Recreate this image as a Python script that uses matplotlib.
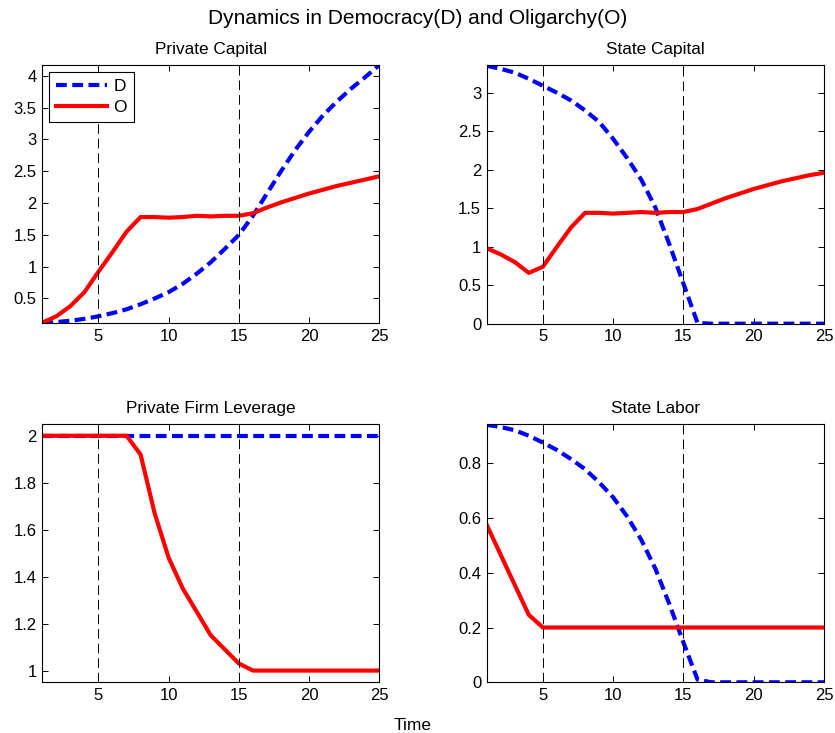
import matplotlib
matplotlib.use("Agg")
import matplotlib.pyplot as plt
import numpy as np

plt.rcParams['font.family'] = ['Liberation Sans', 'DejaVu Sans']

# time periods
t = np.arange(1, 26)

# Private Capital
pk_dem = [0.11, 0.13, 0.15, 0.18, 0.22, 0.27, 0.33, 0.41, 0.50, 0.60, 0.73, 0.89, 1.07,
          1.28, 1.50, 1.80, 2.15, 2.50, 2.83, 3.12, 3.38, 3.60, 3.80, 3.98, 4.17]
pk_oli = [0.12, 0.22, 0.38, 0.60, 0.92, 1.23, 1.55, 1.78, 1.78, 1.77, 1.78, 1.80, 1.79,
          1.80, 1.80, 1.84, 1.93, 2.01, 2.08, 2.15, 2.21, 2.27, 2.32, 2.37, 2.42]

# State Capital
sk_dem = [3.35, 3.31, 3.26, 3.18, 3.09, 3.00, 2.90, 2.77, 2.62, 2.40, 2.15, 1.87, 1.51,
          1.03, 0.52, 0.01, 0, 0, 0, 0, 0, 0, 0, 0, 0]
sk_oli = [0.98, 0.90, 0.80, 0.66, 0.74, 1.00, 1.25, 1.44, 1.44, 1.43, 1.44, 1.45, 1.44,
          1.45, 1.45, 1.49, 1.56, 1.63, 1.69, 1.75, 1.80, 1.85, 1.89, 1.93, 1.96]

# Private Firm Leverage
lev_dem = [2.0] * 25
lev_oli = [2.0, 2.0, 2.0, 2.0, 2.0, 2.0, 2.0, 1.92, 1.67, 1.48, 1.35, 1.25, 1.15,
           1.09, 1.03, 1.0, 1.0, 1.0, 1.0, 1.0, 1.0, 1.0, 1.0, 1.0, 1.0]

# State Labor
sl_dem = [0.94, 0.932, 0.92, 0.90, 0.875, 0.848, 0.815, 0.778, 0.73, 0.675, 0.605, 0.52,
          0.415, 0.285, 0.145, 0.01, 0, 0, 0, 0, 0, 0, 0, 0, 0]
sl_oli = [0.575, 0.465, 0.355, 0.246, 0.20, 0.20, 0.20, 0.20, 0.20, 0.20, 0.20, 0.20, 0.20,
          0.20, 0.20, 0.20, 0.20, 0.20, 0.20, 0.20, 0.20, 0.20, 0.20, 0.20, 0.20]

panels = [
    ("Private Capital", pk_dem, pk_oli, (0.11, 4.17), np.arange(0.5, 4.01, 0.5)),
    ("State Capital", sk_dem, sk_oli, (0, 3.36), np.arange(0, 3.01, 0.5)),
    ("Private Firm Leverage", lev_dem, lev_oli, (0.95, 2.05), np.arange(1, 2.01, 0.2)),
    ("State Labor", sl_dem, sl_oli, (0, 0.943), np.arange(0, 0.81, 0.2)),
]
breaks = [5, 15]

W, H = 835, 733
fig = plt.figure(figsize=(W / 100, H / 100), dpi=100)

# axes boxes in pixels: left, right, top, bottom
boxes = [(42.3, 379.3, 65, 323.3), (486.7, 824, 65, 323.7),
         (42.3, 379.3, 424, 682.3), (486.7, 824, 424, 682.3)]

lw = 3
for (title, dem, oli, ylim, yticks), (l, r, tp, b) in zip(panels, boxes):
    ax = fig.add_axes([l / W, 1 - b / H, (r - l) / W, (b - tp) / H])
    ax.plot(t, dem, color='blue', lw=lw, linestyle=(0, (2.6, 1.3)), label='D',
            dash_capstyle='butt')
    ax.plot(t, oli, color='red', lw=lw, label='O')
    for xb in breaks:
        ax.axvline(xb, color='black', lw=0.7, linestyle=(0, (10, 5)))
    ax.set_xlim(1, 25)
    ax.set_ylim(*ylim)
    ax.set_xticks([5, 10, 15, 20, 25])
    ax.set_yticks(yticks)
    ax.set_yticklabels(['%g' % round(v, 2) for v in yticks])
    ax.tick_params(direction='in', top=True, right=True, labelsize=12, length=4,
                   width=0.7, pad=4)
    for s in ax.spines.values():
        s.set_linewidth(0.8)
    ax.set_title(title, fontsize=12.4, pad=8)
    if title == "Private Capital":
        leg = ax.legend(loc='upper left', fontsize=12.5, fancybox=False, framealpha=1,
                        edgecolor='black', handlelength=2.9, borderpad=0.4,
                        labelspacing=0.35, handletextpad=0.4, borderaxespad=0.4)
        leg.get_frame().set_linewidth(0.8)
        leg._legend_box.sep = 0
        for txt in leg.get_texts():
            txt.set_x(0)

fig.text(0.5, 1 - 18 / H, "Dynamics in Democracy(D) and Oligarchy(O)", ha='center',
         va='center', fontsize=15)
fig.text(413 / W, 1 - 725 / H, "Time", ha='center', va='center', fontsize=12.5)

fig.savefig("out.png", dpi=100)
